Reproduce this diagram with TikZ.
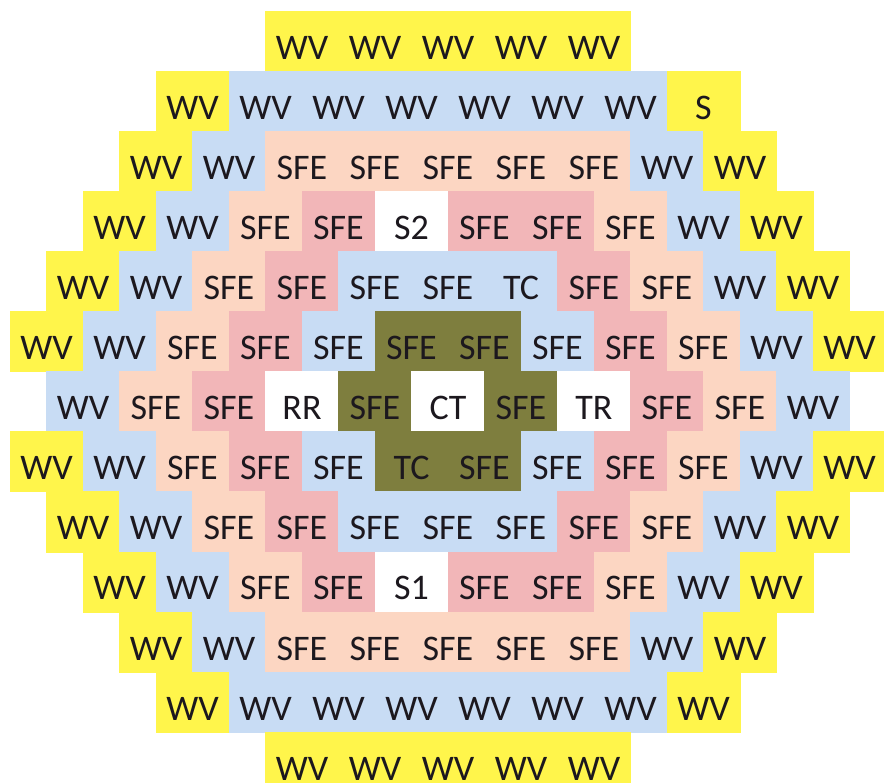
\documentclass[tikz,border=0pt]{standalone}
\usepackage{fontspec}
\setmainfont{Carlito}
\definecolor{cY}{RGB}{255,245,75}
\definecolor{cB}{RGB}{200,220,244}
\definecolor{cP}{RGB}{252,214,194}
\definecolor{cK}{RGB}{242,182,184}
\definecolor{cW}{RGB}{255,255,255}
\definecolor{cO}{RGB}{126,126,62}
\definecolor{txt}{RGB}{28,24,30}
\begin{document}
\begin{tikzpicture}[x=1pt,y=-1pt,
  cell/.style={rectangle, inner sep=0pt, minimum width=73pt, minimum height=60.1pt,
    draw=c#1, fill=c#1, line width=0.6pt, text height=40pt, text depth=4pt,
    font=\fontsize{36}{40}\selectfont, text=txt}]
\clip (0,0) rectangle (884,783);
\foreach \r/\n/\cells in {
  0/5/{Y/WV,Y/WV,Y/WV,Y/WV,Y/WV},
  1/8/{Y/WV,B/WV,B/WV,B/WV,B/WV,B/WV,B/WV,Y/S},
  2/9/{Y/WV,B/WV,P/SFE,P/SFE,P/SFE,P/SFE,P/SFE,B/WV,Y/WV},
  3/10/{Y/WV,B/WV,P/SFE,K/SFE,W/S2,K/SFE,K/SFE,P/SFE,B/WV,Y/WV},
  4/11/{Y/WV,B/WV,P/SFE,K/SFE,B/SFE,B/SFE,B/TC,K/SFE,P/SFE,B/WV,Y/WV},
  5/12/{Y/WV,B/WV,P/SFE,K/SFE,B/SFE,O/SFE,O/SFE,B/SFE,K/SFE,P/SFE,B/WV,Y/WV},
  6/11/{B/WV,P/SFE,K/SFE,W/RR,O/SFE,W/CT,O/SFE,W/TR,K/SFE,P/SFE,B/WV},
  7/12/{Y/WV,B/WV,P/SFE,K/SFE,B/SFE,O/TC,O/SFE,B/SFE,K/SFE,P/SFE,B/WV,Y/WV},
  8/11/{Y/WV,B/WV,P/SFE,K/SFE,B/SFE,B/SFE,B/SFE,K/SFE,P/SFE,B/WV,Y/WV},
  9/10/{Y/WV,B/WV,P/SFE,K/SFE,W/S1,K/SFE,K/SFE,P/SFE,B/WV,Y/WV},
  10/9/{Y/WV,B/WV,P/SFE,P/SFE,P/SFE,P/SFE,P/SFE,B/WV,Y/WV},
  11/8/{Y/WV,B/WV,B/WV,B/WV,B/WV,B/WV,B/WV,Y/WV},
  12/5/{Y/WV,Y/WV,Y/WV,Y/WV,Y/WV}}{
  \foreach \c/\t [count=\i] in \cells {
    \node[cell=\c] (r\r-\i) at ({448+(\i-(\n+1)/2)*73}, {41.05+60.1*\r}) {\t};
  }
}
\end{tikzpicture}
\end{document}
